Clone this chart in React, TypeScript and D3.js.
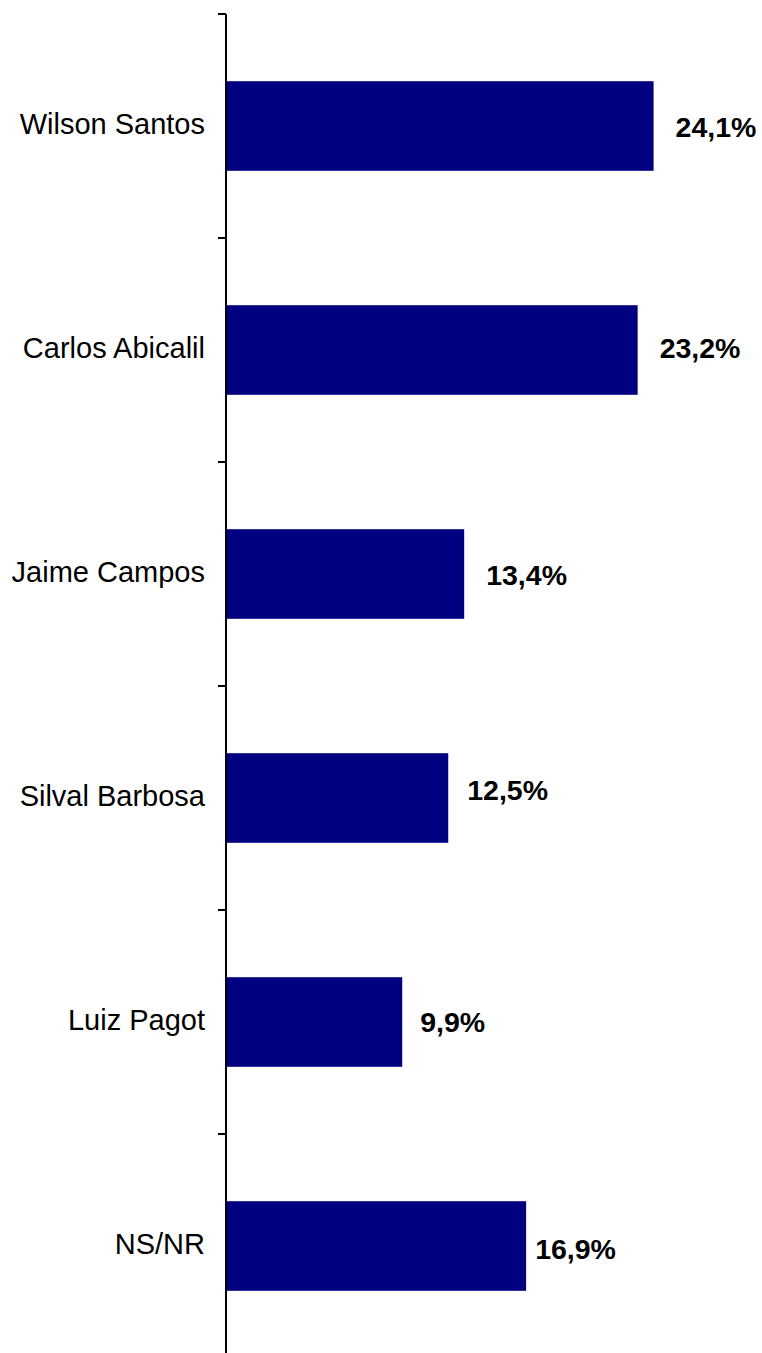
import React from "react";
import * as d3 from "d3";

const categories = ["Wilson Santos", "Carlos Abicalil", "Jaime Campos", "Silval Barbosa", "Luiz Pagot", "NS/NR"];
const values = [24.1, 23.2, 13.4, 12.5, 9.9, 16.9];
const valueLabels = ["24,1%", "23,2%", "13,4%", "12,5%", "9,9%", "16,9%"];

// layout-only nudges for the value labels (dx, dy) as placed in the original
const labelDx = [22, 22, 22, 19, 18, 9];
const labelDy = [10.5, 8, 11, 1.5, 10, 13];

const W = 762;
const H = 1353;
const axisX = 227;
const top = 14;
const step = 224;

export default function App() {
  const x = d3.scaleLinear().domain([0, 30]).range([axisX, axisX + 17.7 * 30]);
  const y = d3
    .scaleBand<string>()
    .domain(categories)
    .range([top, top + step * categories.length])
    .paddingInner(0.6)
    .paddingOuter(0.3);
  const s = y.step();
  const tickYs = categories.map((c) => (y(c) as number) - s * 0.3);
  const font = "Arial, 'Liberation Sans', sans-serif";

  return (
    <svg
      width={W}
      height={H}
      style={{ position: "absolute", left: 0, top: 0, background: "#fff" }}
      fontFamily={font}
    >
      <rect x={0} y={0} width={W} height={H} fill="#fff" />
      {categories.map((c, i) => {
        const by = y(c) as number;
        const bh = y.bandwidth();
        const cy = by + bh / 2;
        return (
          <g key={c}>
            <rect x={x(0)} y={by} width={x(values[i]) - x(0)} height={bh} fill="#000080" />
            <text x={205} y={cy + 8} textAnchor="end" fontSize={29} fill="#000">
              {c}
            </text>
            <text
              x={x(values[i]) + labelDx[i]}
              y={cy + labelDy[i]}
              fontSize={28.5}
              fontWeight="bold"
              fill="#000"
            >
              {valueLabels[i]}
            </text>
          </g>
        );
      })}
      <line x1={226} x2={226} y1={top} y2={top + s * categories.length} stroke="#000" strokeWidth={2} />
      {tickYs.map((ty, i) => (
        <line key={i} x1={218} x2={226} y1={ty} y2={ty} stroke="#000" strokeWidth={2} />
      ))}
    </svg>
  );
}
